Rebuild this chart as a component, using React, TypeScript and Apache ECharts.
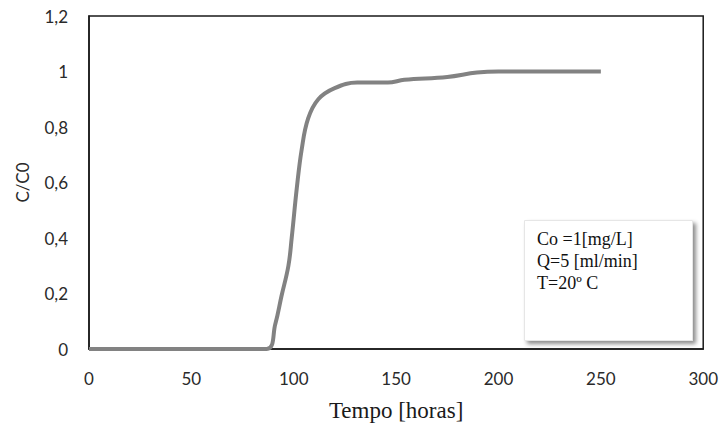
import React, { useEffect, useRef } from "react";
import * as echarts from "echarts";

const timeHours = [0, 10, 30, 60, 86.8, 91, 94, 97.4, 99, 101.5, 103.9, 107, 112, 120, 131, 146, 154, 175, 189.5, 200, 225, 250];
const concRatio = [0, 0, 0, 0, 0, 0.09, 0.19, 0.30, 0.40, 0.58, 0.72, 0.83, 0.90, 0.94, 0.96, 0.96, 0.97, 0.98, 0.996, 1.0, 1.0, 1.0];
const xTicks = [0, 50, 100, 150, 200, 250, 300];
const yTicks = [0, 0.2, 0.4, 0.6, 0.8, 1, 1.2];
const infoLines = ["Co =1[mg/L]", "Q=5 [ml/min]", "T=20º C"];

export default function App() {
  const ref = useRef<HTMLDivElement>(null);
  useEffect(() => {
    if (!ref.current) return;
    const chart = echarts.init(ref.current, null, { renderer: "svg" });
    const labelFont = "Lato, 'Open Sans', sans-serif";
    chart.setOption({
      animation: false,
      backgroundColor: "#fff",
      grid: {
        left: 89,
        right: 13,
        top: 16,
        bottom: 76,
        show: true,
        borderColor: "#1a1a1a",
        borderWidth: 1.5,
        backgroundColor: "transparent",
      },
      xAxis: {
        type: "value",
        min: xTicks[0],
        max: xTicks[xTicks.length - 1],
        interval: 50,
        name: "Tempo [horas]",
        nameLocation: "middle",
        nameGap: 50,
        nameTextStyle: { fontFamily: "'Liberation Serif', serif", fontSize: 23, color: "#1a1a1a" },
        axisLine: { show: true, lineStyle: { color: "#1a1a1a", width: 1.5 } },
        axisTick: { show: false },
        splitLine: { show: false },
        axisLabel: { margin: 21, fontSize: 17, color: "#2a2a2a", fontFamily: labelFont },
      },
      yAxis: {
        type: "value",
        min: yTicks[0],
        max: yTicks[yTicks.length - 1],
        interval: 0.2,
        name: "C/C0",
        nameLocation: "middle",
        nameRotate: 90,
        nameGap: 58,
        nameTextStyle: { fontFamily: labelFont, fontSize: 17, color: "#2a2a2a" },
        axisLine: { show: true, lineStyle: { color: "#1a1a1a", width: 1.5 } },
        axisTick: { show: false },
        splitLine: { show: false },
        axisLabel: {
          margin: 21,
          fontSize: 17,
          color: "#2a2a2a",
          fontFamily: labelFont,
          formatter: (v: number) => String(Number(v.toFixed(1))).replace(".", ","),
        },
      },
      series: [
        {
          type: "line",
          data: timeHours.map((t, i) => [t, concRatio[i]]),
          smooth: 0.4,
          showSymbol: false,
          lineStyle: { color: "#828282", width: 4 },
        },
      ],
      graphic: [
        {
          type: "rect",
          left: 524,
          top: 220,
          shape: { width: 168, height: 120 },
          style: {
            fill: "#fff",
            stroke: "#e6e6e6",
            lineWidth: 1,
            shadowBlur: 4,
            shadowOffsetX: 3,
            shadowOffsetY: 3,
            shadowColor: "rgba(0,0,0,0.45)",
          },
        },
        ...infoLines.map((line, i) => ({
          type: "text",
          left: 537,
          top: 230 + i * 22,
          style: {
            text: line,
            font: "18px 'Liberation Serif', serif",
            fill: "#111",
          },
        })),
      ],
    });
    return () => chart.dispose();
  }, []);
  return (
    <div
      ref={ref}
      style={{ position: "fixed", left: 0, top: 0, width: 721, height: 427 }}
    />
  );
}
